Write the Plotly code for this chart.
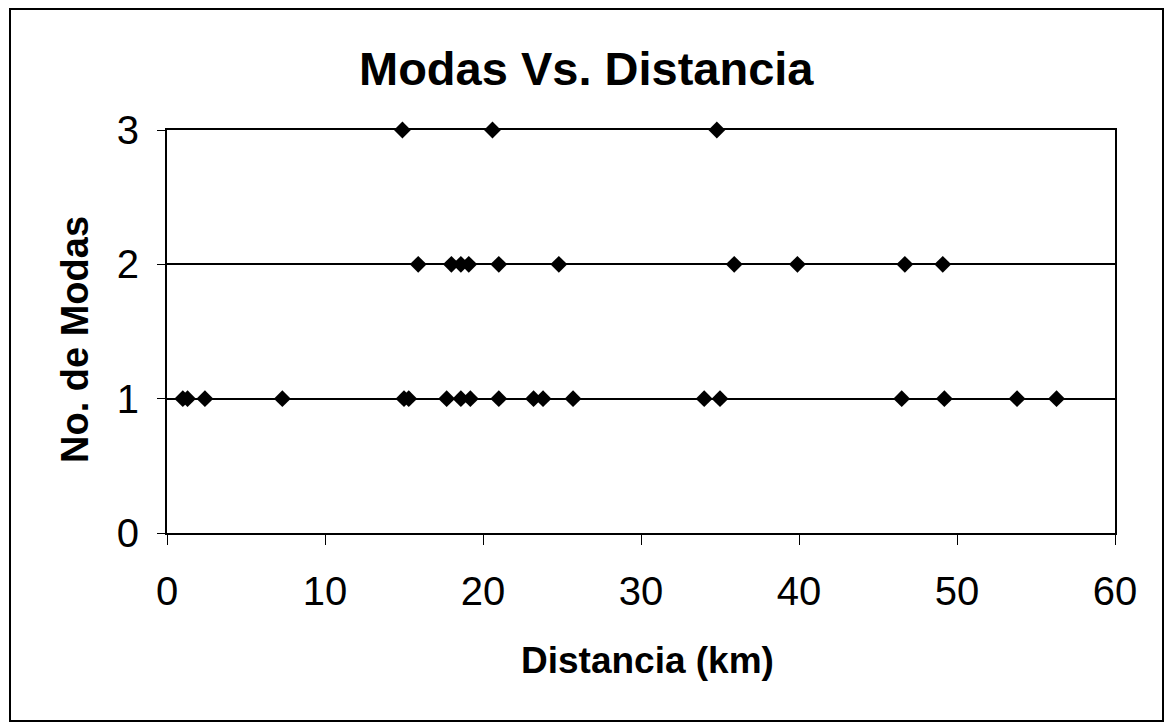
import plotly.graph_objects as go

# Data
distancia_3 = [14.9, 20.6, 34.8]
distancia_2 = [15.9, 18.0, 18.6, 19.1, 21.0, 24.8, 35.9, 39.9, 46.7, 49.1]
distancia_1 = [1.0, 1.3, 2.4, 7.3, 15.0, 15.3, 17.7, 18.6, 19.2, 21.0, 23.2,
               23.8, 25.7, 34.0, 35.0, 46.5, 49.2, 53.8, 56.3]

distancias = distancia_3 + distancia_2 + distancia_1
modas = [3] * len(distancia_3) + [2] * len(distancia_2) + [1] * len(distancia_1)

x_ticks = [0, 10, 20, 30, 40, 50, 60]
y_ticks = [0, 1, 2, 3]

FONT = "Liberation Sans, Arial, sans-serif"

fig = go.Figure()
fig.add_trace(go.Scatter(
    x=distancias, y=modas, mode="markers",
    marker=dict(symbol="diamond", size=13, color="black", line=dict(width=0)),
    cliponaxis=False, showlegend=False,
))

L, R, T, B = 167, 52, 130, 190
W, H = 1167, 723
pw, ph = W - L - R, H - T - B

def px_x(p):
    return (p - L) / pw

def px_y(p):
    return (H - B - p) / ph

fig.update_layout(
    width=W, height=H,
    margin=dict(l=L, r=R, t=T, b=B, pad=0),
    paper_bgcolor="white", plot_bgcolor="white",
    font=dict(family=FONT, color="black"),
    xaxis=dict(
        range=[0, 60], tickvals=x_ticks, ticktext=[str(v) for v in x_ticks],
        showgrid=False, zeroline=False, showline=True, linecolor="black",
        linewidth=2, mirror=True, ticks="outside", ticklen=10, tickwidth=1,
        tickcolor="black", tickfont=dict(size=40, family=FONT, color="black"),
        ticklabelstandoff=12,
    ),
    yaxis=dict(
        range=[0, 3], tickvals=y_ticks, ticktext=[str(v) for v in y_ticks],
        showgrid=True, gridcolor="black", gridwidth=1.5, zeroline=False,
        showline=True, linecolor="black", linewidth=2, mirror=True,
        ticks="outside", ticklen=8, tickwidth=1, tickcolor="black",
        tickfont=dict(size=40, family=FONT, color="black"),
        ticklabelstandoff=10,
    ),
    shapes=[dict(
        type="rect", xref="paper", yref="paper",
        x0=px_x(10), x1=px_x(1163), y0=px_y(721), y1=px_y(9),
        line=dict(color="black", width=2), fillcolor="rgba(0,0,0,0)",
    )],
    annotations=[
        dict(text="<b>Modas Vs. Distancia</b>", xref="paper", yref="paper",
             x=px_x(586), y=px_y(68), showarrow=False,
             xanchor="center", yanchor="middle",
             font=dict(size=47, family=FONT, color="black")),
        dict(text="<b>Distancia (km)</b>", xref="paper", yref="paper",
             x=px_x(647), y=px_y(660), showarrow=False,
             xanchor="center", yanchor="middle",
             font=dict(size=37, family=FONT, color="black")),
        dict(text="<b>No. de Modas</b>", xref="paper", yref="paper",
             x=px_x(75), y=px_y(340), showarrow=False, textangle=-90,
             xanchor="center", yanchor="middle",
             font=dict(size=38, family=FONT, color="black")),
    ],
)

fig.write_html("out.html")
